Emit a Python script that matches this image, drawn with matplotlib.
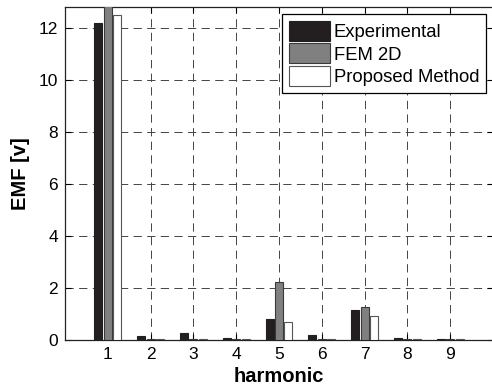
import matplotlib
matplotlib.use("Agg")
import matplotlib.pyplot as plt
import numpy as np

harmonics = [1, 2, 3, 4, 5, 6, 7, 8, 9]
experimental = [12.18, 0.15, 0.26, 0.06, 0.80, 0.19, 1.15, 0.06, 0.03]
fem_2d = [13.2, 0.03, 0.03, 0.03, 2.24, 0.03, 1.28, 0.03, 0.03]
proposed = [12.5, 0.02, 0.02, 0.02, 0.68, 0.02, 0.93, 0.02, 0.02]
series_names = ["Experimental", "FEM 2D", "Proposed Method"]

plt.rcParams["font.family"] = ["Liberation Sans", "DejaVu Sans"]

fig = plt.figure(figsize=(4.92, 3.92), dpi=100)
# the axes run slightly past the right edge of the canvas
ax = fig.add_axes([65 / 492, 1 - 340 / 392, (493 - 65) / 492, (340 - 7) / 392])

x = np.array(harmonics, dtype=float)
w = 0.19
off = 0.22
ax.bar(x - off, experimental, w, color="#231f20", edgecolor="#231f20", linewidth=0.8,
       label=series_names[0], zorder=3)
ax.bar(x, fem_2d, w, color="#808080", edgecolor="#3a3a3a", linewidth=0.8,
       label=series_names[1], zorder=3)
ax.bar(x + off, proposed, w, color="white", edgecolor="#555555", linewidth=0.8,
       label=series_names[2], zorder=3)

ax.set_xlim(0, 10)
ax.set_ylim(0, 12.8)
ax.set_xticks(harmonics)
ax.set_yticks(np.arange(0, 13, 2))
ax.grid(True, linestyle=(0, (8.5, 5.5)), color="#444444", linewidth=0.7, zorder=0)
ax.tick_params(direction="in", top=True, right=True, length=4, labelsize=12.5,
               width=0.8, pad=5)
for s in ax.spines.values():
    s.set_linewidth(0.9)
    s.set_color("#222222")

ax.set_xlabel("harmonic", fontsize=14.5, fontweight="bold", labelpad=4)
ax.set_ylabel("EMF [v]", fontsize=14.5, fontweight="bold", labelpad=6)

leg = ax.legend(loc="upper right", fontsize=13.3, frameon=True, fancybox=False,
                borderpad=0.35, labelspacing=0.12, handlelength=2.2,
                handleheight=1.3, handletextpad=0.22, borderaxespad=0.4)
leg.get_frame().set_edgecolor("black")
leg.get_frame().set_linewidth(0.9)
leg.get_frame().set_alpha(1)

fig.savefig("out.png", dpi=100)
